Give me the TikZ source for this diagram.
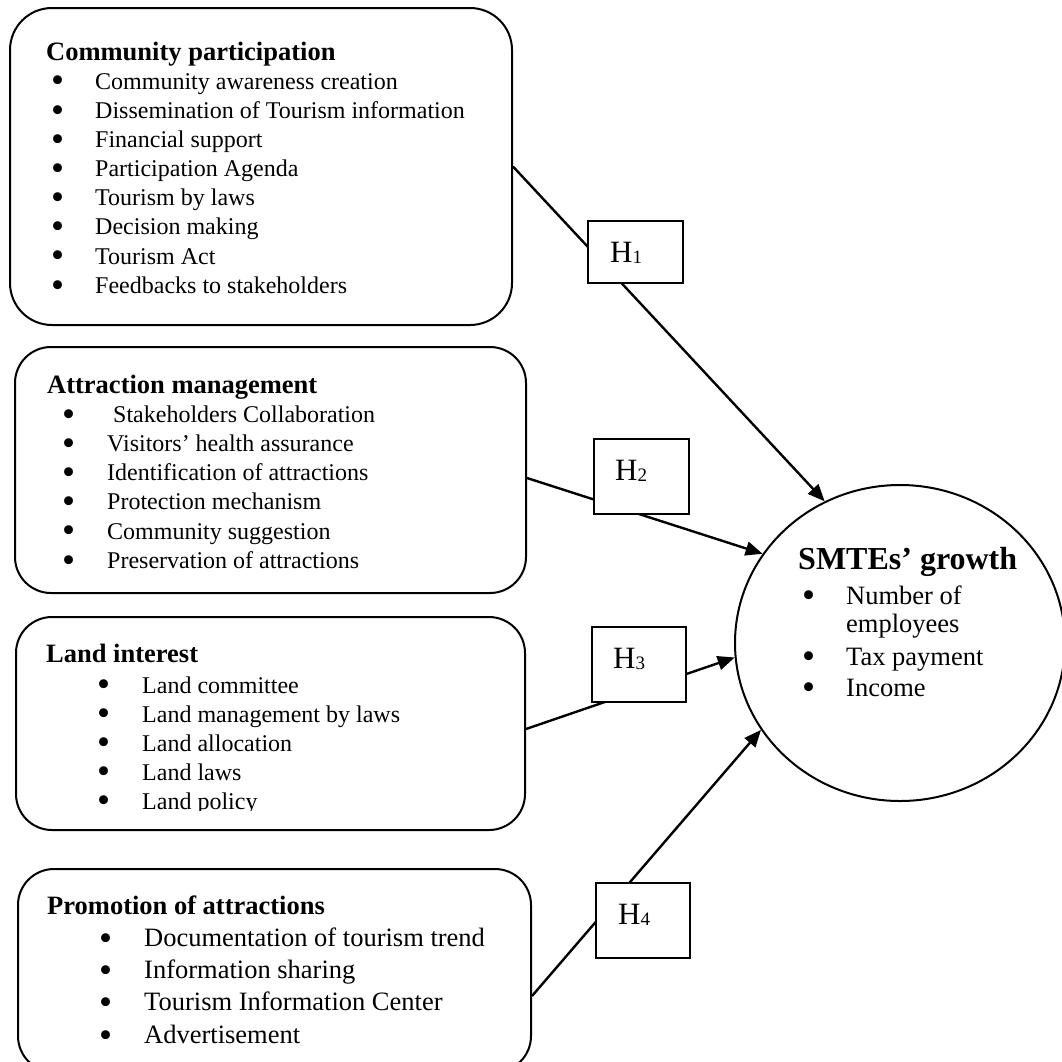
\documentclass[tikz,border=0pt]{standalone}
\usepackage{fontspec}
\usepackage{graphicx}
\setmainfont{Liberation Serif}
\usetikzlibrary{arrows.meta,shapes.geometric,calc}
\newcommand\hsub[1]{{\fontsize{19}{19}\selectfont\raisebox{-1.5pt}{#1}}}
\newcommand\bulglyph{\smash{\raisebox{-3.8pt}{\scalebox{1.55}{\textbullet}}}}
\begin{document}
\begin{tikzpicture}[x=1pt,y=-1pt,
  bigbox/.style={draw, line width=2pt, rounded corners=36pt, inner sep=0pt},
  hbox/.style={draw, fill=white, line width=2pt, inner sep=0pt},
  ttl/.style={anchor=base west, inner sep=0pt, font=\fontsize{26.5}{30}\selectfont\bfseries},
  itm/.style={anchor=base west, inner sep=0pt, font=\fontsize{24}{29}\selectfont},
  itmL/.style={anchor=base west, inner sep=0pt, font=\fontsize{26.5}{32}\selectfont},
  bul/.style={anchor=base west, inner sep=0pt, font=\fontsize{24}{24}\selectfont},
  hlab/.style={anchor=base west, inner sep=0pt, font=\fontsize{31}{31}\selectfont},
  arr/.style={line width=2.4pt, -{Triangle[length=17pt,width=14pt]}}
]
\useasboundingbox (0,0) rectangle (1062,1061);

% left boxes
\node[bigbox, rounded corners=42pt, minimum width=502pt, minimum height=317pt] (b1) at (261,166.5) {};
\node[bigbox, minimum width=511pt, minimum height=246pt] (b2) at (270.5,470) {};
\node[bigbox, minimum width=509pt, minimum height=213pt] (b3) at (270.5,723.5) {};
\node[bigbox, minimum width=513pt, minimum height=203pt] (b4) at (274.5,970.5) {};

% outcome
\node[draw, ellipse, line width=2pt, minimum width=330pt, minimum height=316pt, inner sep=0pt] (c) at (900,643) {};

% connector start points
\coordinate (s1) at (b1.east);
\coordinate (s2) at ($(b2.east)+(0,8)$);
\coordinate (s3) at ($(b3.east)+(0,5.5)$);
\coordinate (s4) at ($(b4.east)+(0,25.5)$);

\draw[arr] (s1) -- (c.118.6);
\draw[arr] (s2) -- (c.147.25);
\draw[arr] (s3) -- (c.185.5);
\draw[arr] (s4) -- (c.212.2);

% hypothesis boxes
\node[hbox, minimum width=95pt, minimum height=62pt] (h1) at (635.5,252) {};
\node[hbox, minimum width=95pt, minimum height=75pt] (h2) at (641.5,476.5) {};
\node[hbox, minimum width=94pt, minimum height=75pt] (h3) at (639,664.5) {};
\node[hbox, minimum width=94pt, minimum height=75pt] (h4) at (643,920.5) {};
\node[hlab] (h1t) at (610,262) {H\hsub{1}};
\node[hlab] (h2t) at (615,480) {H\hsub{2}};
\node[hlab] (h3t) at (613,668) {H\hsub{3}};
\node[hlab] (h4t) at (618,924) {H\hsub{4}};

% box 1
\node[ttl] (t1) at (46,60) {Community participation};
\foreach \s [count=\i] in {Community awareness creation, Dissemination of Tourism information, Financial support, Participation Agenda, Tourism by laws, Decision making, Tourism Act, Feedbacks to stakeholders} {
  \node[bul] (p1b\i) at (51,60+29.15*\i) {\bulglyph};
  \node[itm] (p1t\i) at (95,60+29.15*\i) {\s};
}

% box 2
\node[ttl] (t2) at (47,393) {Attraction management};
\foreach \s [count=\i] in {{\hspace{6pt}Stakeholders Collaboration}, Visitors’ health assurance, Identification of attractions, Protection mechanism, Community suggestion, Preservation of attractions} {
  \node[bul] (p2b\i) at (62,393+29.2*\i) {\bulglyph};
  \node[itm] (p2t\i) at (107,393+29.2*\i) {\s};
}

% box 3
\node[ttl] (t3) at (46,662) {Land interest};
\foreach \s [count=\i] in {Land committee, Land management by laws, Land allocation, Land laws} {
  \node[bul] (p3b\i) at (97,664+29*\i) {\bulglyph};
  \node[itm] (p3t\i) at (142,664+29*\i) {\s};
}
\node[bul] (p3b5) at (97,664+29*5) {\bulglyph};
\begin{scope}
  \clip (0,0) rectangle (1062,810.5);
  \node[itm] (p3t5) at (142,664+29*5) {Land policy};
\end{scope}

% box 4
\node[ttl] (t4) at (47,914) {Promotion of attractions};
\foreach \s [count=\i] in {Documentation of tourism trend, Information sharing, Tourism Information Center, Advertisement} {
  \node[bul] (p4b\i) at (99,914+32.3*\i) {\bulglyph};
  \node[itmL] (p4t\i) at (144,914+32.3*\i) {\s};
}

% circle text
\node[anchor=base west, inner sep=0pt, font=\fontsize{32}{32}\selectfont\bfseries] (ct) at (798,569) {SMTEs’ growth};
\node[bul] (cb1) at (802,604) {\bulglyph};
\node[itmL] (ci1) at (846,604) {Number of};
\node[itmL] (ci1b) at (846,632) {employees};
\node[bul] (cb2) at (802,665) {\bulglyph};
\node[itmL] (ci2) at (846,665) {Tax payment};
\node[bul] (cb3) at (802,696) {\bulglyph};
\node[itmL] (ci3) at (846,696) {Income};
\end{tikzpicture}
\end{document}
